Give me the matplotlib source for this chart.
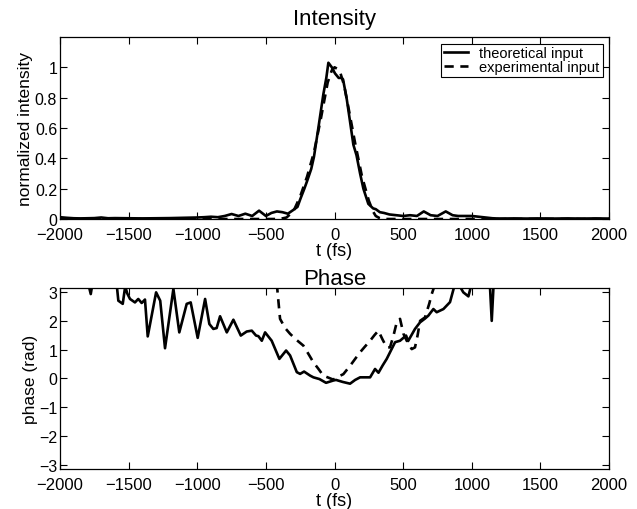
import matplotlib
matplotlib.use("Agg")
import matplotlib.pyplot as plt
import numpy as np

plt.rcParams['font.family'] = ['Liberation Sans', 'DejaVu Sans']

# intensity, theoretical input (solid)
t_int = [-2000, -1950, -1900, -1850, -1800, -1750, -1700, -1650, -1600, -1500, -1400,
         -1300, -1200, -1100, -1000, -950, -900, -850, -800, -750, -700, -650, -600,
         -550, -500, -460, -420, -380, -340, -300, -270, -250, -220, -200, -170, -150,
         -118, -82, -60, -45, -20, 3, 30, 52, 62, 89, 110, 137, 160, 186, 210, 246,
         281, 300, 330, 360, 400, 450, 500, 550, 600, 650, 700, 750, 810, 860, 900,
         950, 1000, 1050, 1100, 1150, 1200, 1300, 1400, 1500, 1600, 1700, 1800, 1900, 2000]
i_theo = [0.012, 0.008, 0.005, 0.004, 0.005, 0.006, 0.010, 0.005, 0.006, 0.005, 0.004,
          0.005, 0.006, 0.008, 0.010, 0.012, 0.015, 0.012, 0.020, 0.033, 0.020, 0.035, 0.020,
          0.055, 0.020, 0.040, 0.050, 0.045, 0.035, 0.060, 0.080, 0.130, 0.200, 0.250, 0.330, 0.410,
          0.600, 0.820, 0.930, 1.030, 1.000, 0.960, 0.930, 0.930, 0.920, 0.790, 0.660, 0.490, 0.420, 0.300, 0.200, 0.100,
          0.070, 0.065, 0.045, 0.040, 0.030, 0.025, 0.020, 0.025, 0.020, 0.050, 0.025, 0.020, 0.050, 0.025, 0.020,
          0.020, 0.020, 0.015, 0.010, 0.005, 0.003, 0.004, 0.003, 0.004, 0.003, 0.004, 0.003, 0.004, 0.003]

# intensity, experimental input (dashed)
t_exp = [-2000, -1500, -1000, -500, -400, -350, -300, -250, -200, -150, -100, -50, -20,
         0, 20, 40, 70, 100, 150, 200, 250, 280, 300, 330, 350, 400, 500, 1000, 1500, 2000]
i_exp = [0, 0, 0, 0, 0, 0.01, 0.05, 0.15, 0.28, 0.44, 0.66, 0.90, 0.98,
         1.0, 0.99, 0.97, 0.88, 0.74, 0.50, 0.28, 0.12, 0.05, 0.02, 0.005, 0, 0, 0, 0, 0, 0]

# phase, theoretical (solid)
t_ph = [-1800, -1776, -1760, -1590, -1575, -1543, -1525, -1510, -1490, -1454, -1430, -1405,
        -1381, -1361, -1300, -1270, -1235, -1174, -1131, -1077, -1048, -997, -943, -912,
        -883, -859, -834, -785, -737, -683, -640, -603, -572, -555, -530, -506, -458, -402,
        -353, -324, -275, -251, -222, -178, -154, -110, -62, -9, 11, 60, 113, 150, 186,
        259, 295, 320, 350, 380, 441, 477, 521, 536, 586, 623, 659, 683, 720, 744, 793,
        841, 878, 900, 938, 975, 999, 1020, 1130, 1145, 1160]
ph_theo = [3.4, 2.93, 3.4, 3.4, 2.70, 2.59, 3.2, 2.95, 2.76, 2.64, 2.76, 2.62,
           2.74, 1.46, 2.99, 2.70, 1.05, 3.11, 1.60, 2.59, 2.64, 1.41, 2.76, 1.89,
           1.72, 1.75, 2.16, 1.60, 2.04, 1.49, 1.63, 1.66, 1.49, 1.47, 1.31, 1.60, 1.31, 0.68,
           0.97, 0.80, 0.22, 0.16, 0.24, 0.10, 0.04, -0.02, -0.15, -0.07, -0.05, -0.12, -0.18, -0.05, 0.04,
           0.04, 0.33, 0.20, 0.45, 0.68, 1.26, 1.31, 1.49, 1.30, 1.72, 1.95, 2.08, 2.18, 2.41, 2.30, 2.41,
           2.65, 3.30, 3.30, 2.99, 2.85, 3.30, 3.40, 3.40, 2.00, 3.40]

# phase, experimental (dashed)
t_ph_exp = [-421, -397, -360, -324, -280, -227, -190, -154, -120, -82, -40, -9, 16, 64,
            113, 150, 186, 220, 259, 290, 319, 350, 380, 404, 430, 453, 477, 502, 526,
            562, 586, 605, 623, 659, 690, 708, 720, 730]
ph_exp = [3.3, 2.07, 1.75, 1.55, 1.35, 1.14, 0.85, 0.56, 0.35, 0.10, 0.02, -0.04, 0.04, 0.15,
          0.44, 0.68, 0.91, 1.10, 1.31, 1.50, 1.66, 1.35, 1.08, 1.08, 1.50, 1.95, 2.07, 1.55, 1.31,
          1.02, 1.08, 1.50, 2.00, 2.12, 2.60, 2.93, 3.10, 3.30]

fig = plt.figure(figsize=(6.37, 5.10), dpi=100)
ax1 = fig.add_axes([0.0942, 0.5686, 0.862, 0.357])
ax2 = fig.add_axes([0.0942, 0.0784, 0.862, 0.355])

lw = 1.9
ax1.plot(t_int, i_theo, 'k-', lw=lw, label='theoretical input')
ax1.plot(t_exp, i_exp, 'k--', lw=lw, dashes=(3.5, 2.5), label='experimental input')
ax1.set_xlim(-2000, 2000)
ax1.set_ylim(0, 1.2)
ax1.set_yticks([0, 0.2, 0.4, 0.6, 0.8, 1])
ax1.set_yticklabels(['0', '0.2', '0.4', '0.6', '0.8', '1'])
ax1.set_title('Intensity', fontsize=16, pad=9)
ax1.set_xlabel('t (fs)', fontsize=13, labelpad=0)
ax1.set_ylabel('normalized intensity', fontsize=12.5, labelpad=1)
leg = ax1.legend(loc='upper right', fontsize=10.5, frameon=True, fancybox=False,
                 edgecolor='k', framealpha=1, handlelength=1.6, labelspacing=0.0,
                 borderpad=0.2, handletextpad=0.8, borderaxespad=0.45)
leg.get_frame().set_linewidth(0.8)

ax2.plot(t_ph, ph_theo, 'k-', lw=lw)
ax2.plot(t_ph_exp, ph_exp, 'k--', lw=lw, dashes=(3.5, 2.5))
ax2.set_xlim(-2000, 2000)
ax2.set_ylim(-np.pi, np.pi)
ax2.set_yticks([-3, -2, -1, 0, 1, 2, 3])
ax2.set_title('Phase', fontsize=16, pad=3)
ax2.set_xlabel('t (fs)', fontsize=13, labelpad=0)
ax2.set_ylabel('phase (rad)', fontsize=12.5, labelpad=1)

for ax in (ax1, ax2):
    ax.set_xticks(range(-2000, 2001, 500))
    ax.tick_params(direction='in', top=True, right=True, length=5, width=0.8,
                   labelsize=12, pad=2)
    ax.tick_params(axis='y', labelsize=11.5)
    ax.tick_params(axis='x', pad=6)
    for s in ax.spines.values():
        s.set_linewidth(0.9)

fig.savefig('out.png', dpi=100)
